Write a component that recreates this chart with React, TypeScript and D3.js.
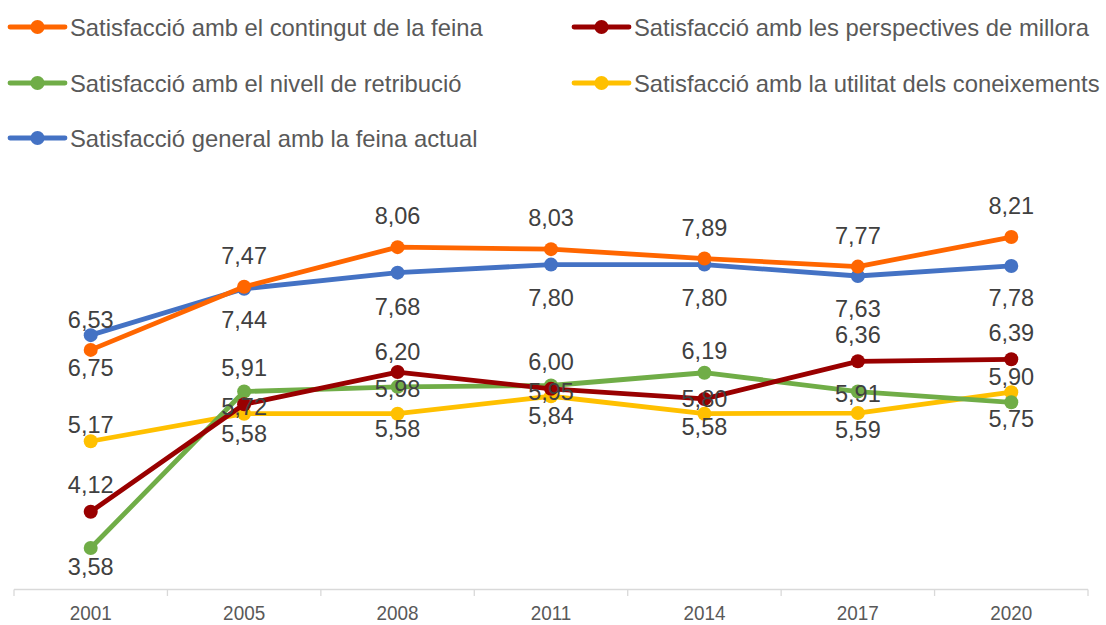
import React from "react";
import * as d3 from "d3";

const years = ["2001", "2005", "2008", "2011", "2014", "2017", "2020"];

const contingut = [6.53, 7.47, 8.06, 8.03, 7.89, 7.77, 8.21];
const perspectives = [4.12, 5.72, 6.2, 5.95, 5.8, 6.36, 6.39];
const retribucio = [3.58, 5.91, 5.98, 6.0, 6.19, 5.91, 5.75];
const utilitat = [5.17, 5.58, 5.58, 5.84, 5.58, 5.59, 5.9];
const general = [6.75, 7.44, 7.68, 7.8, 7.8, 7.63, 7.78];

const seriesNames = [
  "Satisfacció amb el contingut de la feina",
  "Satisfacció amb les perspectives de millora",
  "Satisfacció amb el nivell de retribució",
  "Satisfacció amb la utilitat dels coneixements",
  "Satisfacció general amb la feina actual",
];

const yDomain = [3, 9];

// label vertical offsets (px, relative to point) — placement only
const labelDy = [
  [-30, -31, -31, -31, -31, -31, -31],
  [-27, 3, -20, 3, 0, -26, -26],
  [19, -24, 2, -24, -22, 2, 17],
  [-16, 20, 15, 20, 13, 17, -15],
  [33, 31, 34, 33, 33, 33, 32],
];

const colors = ["#FF6600", "#990000", "#70AD47", "#FFC000", "#4472C4"];
const drawOrder = [3, 2, 1, 4, 0];

const fmt = (v: number) => v.toFixed(2).replace(".", ",");

export default function App() {
  const W = 1106;
  const H = 625;
  const data = [contingut, perspectives, retribucio, utilitat, general];
  const x = d3.scaleBand<string>().domain(years).range([14, 1088]).padding(0);
  const cx = (y: string) => (x(y) as number) + x.bandwidth() / 2;
  const y = d3.scaleLinear().domain(yDomain).range([587, 184]);
  const line = d3
    .line<number>()
    .x((_, i) => cx(years[i]))
    .y((v) => y(v));
  const font = "'Liberation Sans', Arial, sans-serif";
  const textColor = "#404040";

  const legendPos = [
    { x: 10, y: 27 },
    { x: 574, y: 27 },
    { x: 10, y: 83 },
    { x: 574, y: 83 },
    { x: 10, y: 138 },
  ];

  const boundaries = [...years.map((yr) => x(yr) as number), 1088];

  return (
    <svg width={W} height={H} style={{ position: "absolute", left: 0, top: 0 }} fontFamily={font}>
      <rect width={W} height={H} fill="#fff" />
      {/* axis */}
      <line x1={14} x2={1088} y1={589.5} y2={589.5} stroke="#d9d9d9" strokeWidth={1.3} />
      {boundaries.map((b, i) => (
        <line key={i} x1={b} x2={b} y1={589.5} y2={596} stroke="#d9d9d9" strokeWidth={1.3} />
      ))}
      {years.map((yr) => (
        <g key={yr} transform={`translate(${cx(yr)},612.5) scale(0.9,1)`}>
          <text x={0} y={0} textAnchor="middle" dominantBaseline="central" fontSize={21} fill="#595959">
            {yr}
          </text>
        </g>
      ))}
      {/* lines */}
      {drawOrder.map((s) => (
        <g key={s}>
          <path d={line(data[s]) as string} fill="none" stroke={colors[s]} strokeWidth={4.8} strokeLinejoin="round" strokeLinecap="round" />
          {data[s].map((v, i) => (
            <circle key={i} cx={cx(years[i])} cy={y(v)} r={7} fill={colors[s]} />
          ))}
        </g>
      ))}
      {/* labels */}
      {drawOrder.map((s) => (
        <g key={"l" + s}>
          {data[s].map((v, i) => (
            <text
              key={i}
              x={cx(years[i])}
              y={y(v) + labelDy[s][i]}
              textAnchor="middle"
              dominantBaseline="central"
              fontSize={23.5}
              fill={textColor}
            >
              {fmt(v)}
            </text>
          ))}
        </g>
      ))}
      {/* legend */}
      {seriesNames.map((n, i) => (
        <g key={n} transform={`translate(${legendPos[i].x},${legendPos[i].y})`}>
          <line x1={0} x2={55} y1={0} y2={0} stroke={colors[i]} strokeWidth={4.8} strokeLinecap="round" />
          <circle cx={27.5} cy={0} r={7} fill={colors[i]} />
          <text x={60} y={0} dominantBaseline="central" fontSize={23.8} fill="#595959">
            {n}
          </text>
        </g>
      ))}
    </svg>
  );
}
